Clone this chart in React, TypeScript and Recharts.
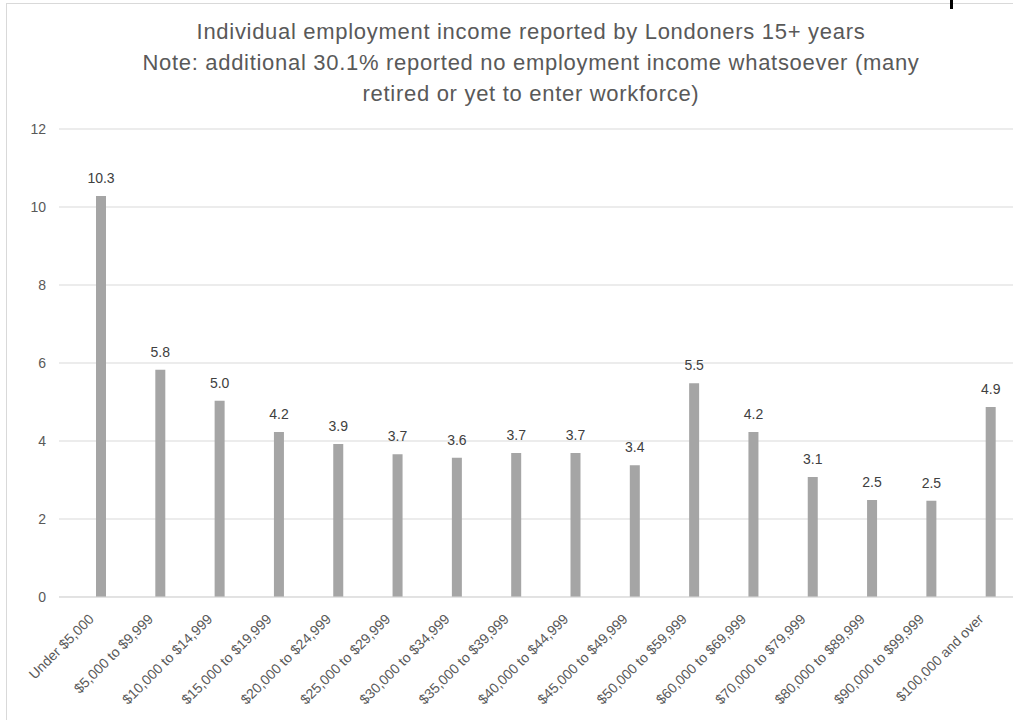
import React from "react";
import { BarChart, Bar, XAxis, YAxis, CartesianGrid, LabelList } from "recharts";

const categories = [
  "Under $5,000",
  "$5,000 to $9,999",
  "$10,000 to $14,999",
  "$15,000 to $19,999",
  "$20,000 to $24,999",
  "$25,000 to $29,999",
  "$30,000 to $34,999",
  "$35,000 to $39,999",
  "$40,000 to $44,999",
  "$45,000 to $49,999",
  "$50,000 to $59,999",
  "$60,000 to $69,999",
  "$70,000 to $79,999",
  "$80,000 to $89,999",
  "$90,000 to $99,999",
  "$100,000 and over",
];
const values = [10.28, 5.83, 5.03, 4.23, 3.92, 3.66, 3.57, 3.69, 3.69, 3.38, 5.48, 4.23, 3.08, 2.49, 2.47, 4.87];
const yTicks = [0, 2, 4, 6, 8, 10, 12];
const titleLines = [
  "Individual employment income reported by Londoners 15+ years",
  "Note: additional 30.1% reported no employment income whatsoever (many",
  "retired or yet to enter workforce)",
];

const data = categories.map((c, i) => ({ name: c, value: values[i] }));

const FONT = "'Liberation Sans', Arial, sans-serif";

const XTick = (props: any) => {
  const { x, y, payload } = props;
  const ax = x - 6;
  const ay = y + 15;
  return (
    <text
      x={ax}
      y={ay}
      transform={`rotate(-45 ${ax} ${ay})`}
      textAnchor="end"
      fontSize={14}
      fill="#595959"
      fontFamily={FONT}
    >
      {payload.value}
    </text>
  );
};

export default function App() {
  return (
    <div style={{ position: "absolute", left: 0, top: 0, width: 1013, height: 720, overflow: "hidden", background: "#fff" }}>
      <div
        style={{
          position: "absolute",
          left: 6,
          top: 3,
          width: 1050,
          height: 760,
          border: "1px solid #D9D9D9",
          boxSizing: "border-box",
        }}
      />
      <div style={{ position: "absolute", left: 950, top: 0, width: 3, height: 9, background: "#000" }} />
      <div
        style={{
          position: "absolute",
          left: 6,
          top: 16,
          width: 1050,
          textAlign: "center",
          fontFamily: FONT,
          fontSize: 22,
          letterSpacing: 0.7,
          lineHeight: "31px",
          color: "#595959",
        }}
      >
        {titleLines.map((t, i) => (
          <div key={i}>{t}</div>
        ))}
      </div>
      <div style={{ position: "absolute", left: 0, top: 0 }}>
        <BarChart
          width={1060}
          height={720}
          data={data}
          margin={{ top: 129, right: 28, bottom: 13, left: 9 }}
          barSize={10}
        >
          <CartesianGrid vertical={false} stroke="#D9D9D9" />
          <XAxis
            dataKey="name"
            interval={0}
            tick={<XTick />}
            tickLine={false}
            axisLine={{ stroke: "#D9D9D9" }}
            height={110}
            padding={{ left: 12, right: 12 }}
          />
          <YAxis
            domain={[0, 12]}
            ticks={yTicks}
            width={50}
            axisLine={false}
            tickLine={false}
            tick={{ fontSize: 14, fill: "#595959", fontFamily: FONT }}
            tickMargin={7}
          />
          <Bar dataKey="value" fill="#A5A5A5" isAnimationActive={false}>
            <LabelList
              dataKey="value"
              position="top"
              offset={13}
              formatter={(v: any) => Number(v).toFixed(1)}
              style={{ fontSize: 14, fill: "#404040", fontFamily: FONT }}
            />
          </Bar>
        </BarChart>
      </div>
    </div>
  );
}
